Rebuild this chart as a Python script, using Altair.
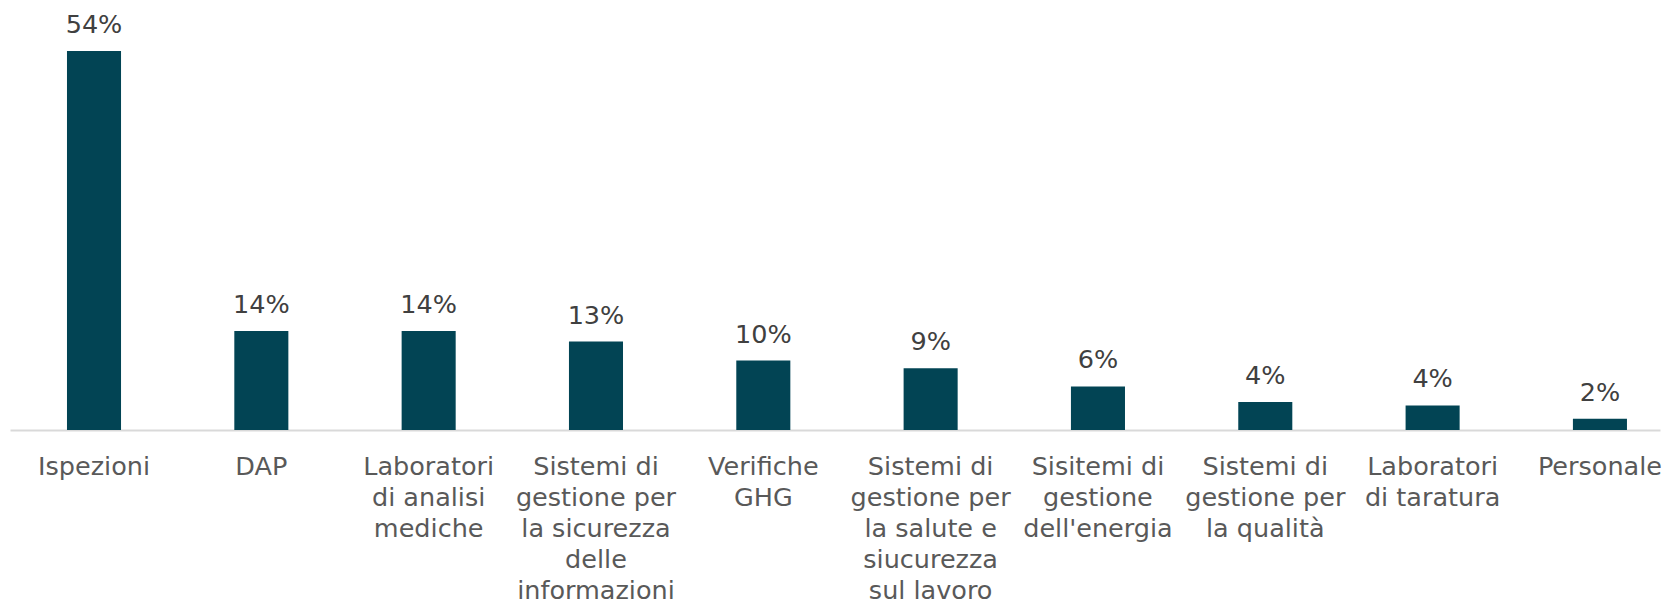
import altair as alt
import pandas as pd

categories = [
    "Ispezioni",
    "DAP",
    "Laboratori|di analisi|mediche",
    "Sistemi di|gestione per|la sicurezza|delle|informazioni",
    "Verifiche|GHG",
    "Sistemi di|gestione per|la salute e|siucurezza|sul lavoro",
    "Sisitemi di|gestione|dell'energia",
    "Sistemi di|gestione per|la qualità",
    "Laboratori|di taratura",
    "Personale",
]
values = [54.0, 14.1, 14.1, 12.6, 9.9, 8.8, 6.2, 4.0, 3.5, 1.6]
labels = ["54%", "14%", "14%", "13%", "10%", "9%", "6%", "4%", "4%", "2%"]

df = pd.DataFrame({"cat": categories, "val": values, "lab": labels})

FONT = "DejaVu Sans"

x = alt.X(
    "cat:N",
    sort=None,
    scale=alt.Scale(paddingInner=0.677, paddingOuter=0.269, align=0.633),
    axis=alt.Axis(
        title=None,
        labelAngle=0,
        labelExpr="split(datum.label, '|')",
        labelFontSize=25.5,
        labelFont=FONT,
        labelColor="#595959",
        labelLineHeight=31,
        labelPadding=24,
        ticks=False,
        domainColor="#d9d9d9",
        domainWidth=2,
        labelLimit=0,
        labelOverlap=False,
        labelBound=False,
        grid=False,
    ),
)
y = alt.Y("val:Q", scale=alt.Scale(domain=[0, 60]), axis=None)

bars = alt.Chart(df).mark_bar(color="#024454").encode(x=x, y=y)
text = alt.Chart(df).mark_text(
    dy=-18, baseline="alphabetic", fontSize=25.5, font=FONT, color="#404040"
).encode(x=x, y=y, text="lab:N")

chart = (
    (bars + text)
    .properties(
        width=1650,
        height=421,
        padding={"left": 2, "top": 1, "right": 0, "bottom": 0},
    )
    .configure_view(stroke=None)
)

chart.save("out.html", embed_options={"renderer": "svg", "actions": False})
